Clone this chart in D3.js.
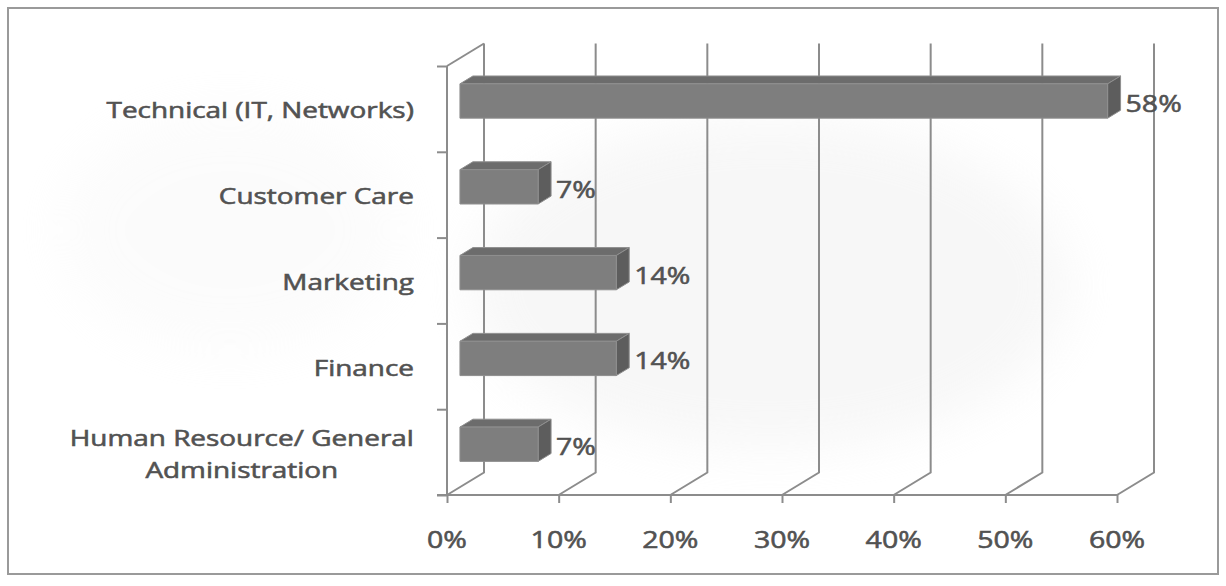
<!DOCTYPE html>
<html>
<head>
<meta charset="utf-8">
<script src="https://cdn.jsdelivr.net/npm/d3@7"></script>
<style>
  html, body { margin: 0; padding: 0; background: #fff; }
  svg { display: block; }
  text { font-family: "Open Sans", "Liberation Sans", sans-serif; font-weight: 400; }
</style>
</head>
<body>
<svg id="chart" width="1226" height="586"></svg>
<script>
// Share of staff by department
const categories = [
  "Technical (IT, Networks)",
  "Customer Care",
  "Marketing",
  "Finance",
  "Human Resource/ General\nAdministration"
];
const values = [0.58, 0.07, 0.14, 0.14, 0.07];
const valueLabels = ["58%", "7%", "14%", "14%", "7%"];
const tickValues = [0, 0.1, 0.2, 0.3, 0.4, 0.5, 0.6];

const svg = d3.select("#chart");
const W = 1226, H = 586;

// 3-D frame: front plane plus a receding depth
const plot = { left: 447, right: 1117, top: 66, bottom: 495 };
const depth = { dx: 37, dy: -22.5 };
const barDepth = { start: 0.35, end: 0.70 };
const catScaleX = 1.33;
const numScaleX = 1.24;
const textColor = "#525252";

const x = d3.scaleLinear().domain([0, 0.6]).range([plot.left, plot.right]);
const y = d3.scaleBand().domain(categories).range([plot.top, plot.bottom])
  .paddingInner(0.6).paddingOuter(0.3);
const yEdge = d3.scaleLinear().domain([0, categories.length]).range([plot.top, plot.bottom]);

// faint background wash
const defs = svg.append("defs");
const blur = defs.append("filter").attr("id", "soft").attr("x", "-50%").attr("y", "-50%")
  .attr("width", "200%").attr("height", "200%");
blur.append("feGaussianBlur").attr("stdDeviation", 25);

svg.append("rect").attr("width", W).attr("height", H).attr("fill", "#fff");
svg.append("ellipse").attr("cx", 770).attr("cy", 285).attr("rx", 300).attr("ry", 165)
  .attr("fill", "#eeeeee").attr("opacity", 0.45).attr("filter", "url(#soft)");
svg.append("ellipse").attr("cx", 230).attr("cy", 230).attr("rx", 170).attr("ry", 120)
  .attr("fill", "#f2f2f2").attr("opacity", 0.25).attr("filter", "url(#soft)");

// outer frame
svg.append("rect").attr("x", 8).attr("y", 8).attr("width", 1210).attr("height", 566)
  .attr("fill", "none").attr("stroke", "#9a9a9a").attr("stroke-width", 2);

const gridColor = "#8c8c8c";
const grid = svg.append("g").attr("stroke", gridColor).attr("stroke-width", 2).attr("fill", "none");

// back-wall gridlines and floor diagonals
tickValues.forEach(v => {
  const fx = x(v), bx = x(v) + depth.dx;
  grid.append("path").attr("d", `M${bx},${plot.top + depth.dy}V${plot.bottom + depth.dy}L${fx},${plot.bottom}`);
});
// side wall top edge
grid.append("path").attr("d", `M${plot.left},${plot.top}L${plot.left + depth.dx},${plot.top + depth.dy}`);

// front value axis
const xAxis = d3.axisBottom(x).tickValues(tickValues).tickSize(8).tickFormat("");
const gx = svg.append("g").attr("transform", `translate(0,${plot.bottom})`).call(xAxis);
gx.select(".domain").remove();
gx.selectAll("line").attr("stroke", gridColor).attr("stroke-width", 2);
svg.append("line").attr("x1", plot.left - 10).attr("x2", plot.right)
  .attr("y1", plot.bottom).attr("y2", plot.bottom)
  .attr("stroke", gridColor).attr("stroke-width", 2);

// front category axis
const yAxis = d3.axisLeft(yEdge).tickValues(d3.range(categories.length + 1)).tickSize(10).tickFormat("");
const gy = svg.append("g").attr("transform", `translate(${plot.left},0)`).call(yAxis);
gy.select(".domain").remove();
gy.selectAll("line").attr("stroke", gridColor).attr("stroke-width", 2);
svg.append("line").attr("x1", plot.left).attr("x2", plot.left)
  .attr("y1", plot.top).attr("y2", plot.bottom)
  .attr("stroke", gridColor).attr("stroke-width", 2);

// medium-weight look for all text
const textStyle = sel => sel.attr("fill", textColor).attr("stroke", textColor)
  .attr("stroke-width", 0.55).attr("paint-order", "stroke");

// value tick labels
svg.append("g").selectAll("text").data(tickValues).join("text")
  .attr("transform", d => `translate(${x(d)},${539}) scale(${numScaleX},1)`)
  .attr("text-anchor", "middle").attr("dominant-baseline", "central")
  .attr("font-size", 23).call(textStyle)
  .text(d => d3.format(".0%")(d));

// category labels (multi-line blocks centred, right-aligned as a block)
const labelRight = 414;
const catG = svg.append("g");
categories.forEach(c => {
  const lines = c.split("\n");
  const cy = y(c) + y.bandwidth() / 2 + 1;
  const g = catG.append("g");
  const lh = 32;
  const t = g.append("text").attr("font-size", 21).call(textStyle)
    .attr("text-anchor", "middle").attr("dominant-baseline", "central");
  lines.forEach((ln, i) => {
    t.append("tspan").attr("x", 0).attr("y", (i - (lines.length - 1) / 2) * lh).text(ln);
  });
  const w = t.node().getBBox().width * catScaleX;
  g.attr("transform", `translate(${labelRight - w / 2},${cy}) scale(${catScaleX},1)`);
});

// 3-D bars
const fdx = depth.dx * barDepth.start, fdy = depth.dy * barDepth.start;
const ddx = depth.dx * (barDepth.end - barDepth.start), ddy = depth.dy * (barDepth.end - barDepth.start);
const bh = y.bandwidth();
const bars = svg.append("g");
categories.forEach((c, i) => {
  const x0 = x(0) + fdx, x1 = x(values[i]) + fdx;
  const y0 = y(c) + fdy;
  const g = bars.append("g").attr("stroke", "#8f8f8f").attr("stroke-width", 1).attr("stroke-linejoin", "round");
  g.append("path").attr("fill", "#6c6c6c")
    .attr("d", `M${x0},${y0}L${x0 + ddx},${y0 + ddy}L${x1 + ddx},${y0 + ddy}L${x1},${y0}Z`);
  g.append("path").attr("fill", "#5d5d5d")
    .attr("d", `M${x1},${y0}L${x1 + ddx},${y0 + ddy}L${x1 + ddx},${y0 + bh + ddy}L${x1},${y0 + bh}Z`);
  g.append("rect").attr("fill", "#7e7e7e")
    .attr("x", x0).attr("y", y0).attr("width", x1 - x0).attr("height", bh);

  svg.append("text")
    .attr("transform", `translate(${x1 + ddx + 5},${y0 + bh / 2 + 2}) scale(${numScaleX},1)`)
    .attr("dominant-baseline", "central").attr("font-size", 23).call(textStyle)
    .text(valueLabels[i]);
});
</script>
</body>
</html>
